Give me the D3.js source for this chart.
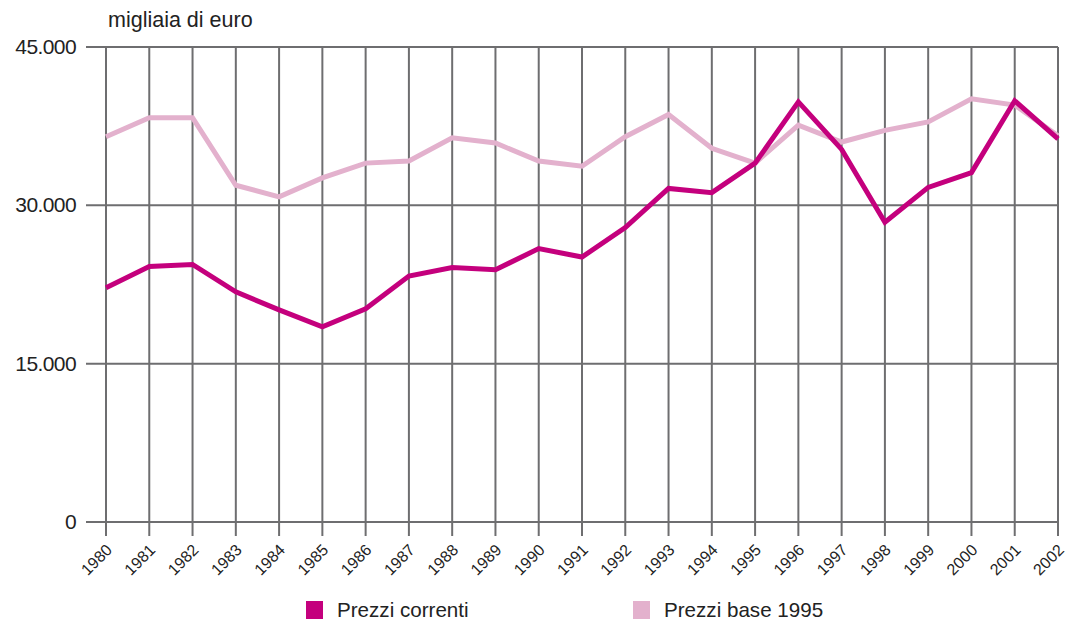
<!DOCTYPE html>
<html>
<head>
<meta charset="utf-8">
<script src="https://cdn.jsdelivr.net/npm/d3@7"></script>
<style>
  body { margin: 0; background: #fff; }
  svg { display: block; font-family: "Liberation Sans", Arial, sans-serif; }
</style>
</head>
<body>
<svg id="chart" width="1070" height="620"></svg>
<script>
// years on the x axis
const years = d3.range(1980, 2003).map(String);
// values in thousands of euro
const prezziCorrenti = [22200, 24200, 24400, 21800, 20100, 18500, 20200, 23300, 24100, 23900,
  25900, 25100, 27900, 31600, 31200, 34000, 39800, 35300, 28400, 31700, 33100, 39900, 36300];
const prezziBase1995 = [36500, 38300, 38300, 31900, 30800, 32600, 34000, 34200, 36400, 35900,
  34200, 33700, 36500, 38600, 35400, 34000, 37600, 36000, 37100, 37900, 40100, 39500, 36600];
const yTicks = [0, 15000, 30000, 45000];
const seriesNames = ["Prezzi correnti", "Prezzi base 1995"];
const seriesColors = ["#c4007d", "#e3b1cd"];

const svg = d3.select("#chart");
const gridColor = "#6e6e70";

const x = d3.scalePoint().domain(years).range([106, 1058]);
const y = d3.scaleLinear().domain([0, 45000]).range([522, 47]);

const fmt = v => v === 0 ? "0" : d3.format(",")(v).replace(/,/g, ".");

// horizontal grid lines + labels
const yAxis = svg.append("g");
yAxis.selectAll("line").data(yTicks).enter().append("line")
  .attr("x1", 86).attr("x2", 1058)
  .attr("y1", d => y(d)).attr("y2", d => y(d))
  .attr("stroke", gridColor).attr("stroke-width", 2);
yAxis.selectAll("text").data(yTicks).enter().append("text")
  .attr("x", 76).attr("y", d => y(d) + 7)
  .attr("text-anchor", "end")
  .attr("font-size", 21)
  .attr("fill", "#222")
  .attr("letter-spacing", -0.6)
  .text(fmt);

// vertical grid lines + rotated year labels
const xAxis = svg.append("g");
xAxis.selectAll("line").data(years).enter().append("line")
  .attr("x1", d => x(d)).attr("x2", d => x(d))
  .attr("y1", y(45000)).attr("y2", 536)
  .attr("stroke", gridColor).attr("stroke-width", 2);
xAxis.selectAll("text").data(years).enter().append("text")
  .attr("transform", d => `translate(${x(d) + 7},${551}) rotate(-45)`)
  .attr("text-anchor", "end")
  .attr("font-size", 16)
  .attr("fill", "#222")
  .text(d => d);

// axis unit title
svg.append("text")
  .attr("x", 108).attr("y", 27)
  .attr("font-size", 21.5)
  .attr("fill", "#222")
  .text("migliaia di euro");

// lines
const line = d3.line()
  .x((d, i) => x(years[i]))
  .y(d => y(d));

[prezziBase1995, prezziCorrenti].forEach((vals, k) => {
  svg.append("path")
    .datum(vals)
    .attr("fill", "none")
    .attr("stroke", k === 0 ? seriesColors[1] : seriesColors[0])
    .attr("stroke-width", 5)
    .attr("stroke-linejoin", "miter")
    .attr("d", line);
});

// legend
const legendX = [306, 633];
const legend = svg.append("g");
seriesNames.forEach((name, i) => {
  legend.append("rect")
    .attr("x", legendX[i]).attr("y", 601)
    .attr("width", 17).attr("height", 18)
    .attr("fill", seriesColors[i]);
  legend.append("text")
    .attr("x", legendX[i] + 31).attr("y", 617)
    .attr("font-size", 20.6)
    .attr("fill", "#222")
    .text(name);
});
</script>
</body>
</html>
